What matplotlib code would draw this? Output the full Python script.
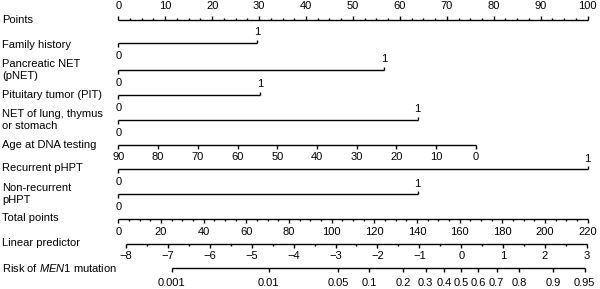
import numpy as np
import matplotlib
matplotlib.use("Agg")
import matplotlib.pyplot as plt

plt.rcParams['font.family'] = ['Liberation Sans', 'DejaVu Sans']
plt.rcParams['mathtext.fontset'] = 'custom'
plt.rcParams['mathtext.rm'] = 'Liberation Sans'
plt.rcParams['mathtext.it'] = 'Liberation Sans:italic'

# ---- data (points contributed) ----
binary_names = ["Family history", "Pancreatic NET\n(pNET)", "Pituitary tumor (PIT)",
                "NET of lung, thymus\nor stomach"]
binary_points = [29.5, 56.7, 30.2, 63.8]
age_ticks = [90, 80, 70, 60, 50, 40, 30, 20, 10, 0]
age_points_at_0 = 76.2   # points when age = 0 (age 90 -> 0 points)
phpt_names = ["Recurrent pHPT", "Non-recurrent\npHPT"]
phpt_points = [100.0, 63.8]
total_max = 220
total_ticks = list(range(0, 221, 20))
lp_ticks = list(range(-8, 4))
lp_at_0pts = -8.184
lp_range = 11.2
risk_ticks = [0.001, 0.01, 0.05, 0.1, 0.2, 0.3, 0.4, 0.5, 0.6, 0.7, 0.8, 0.9, 0.95]
risk_labels = ["0.001", "0.01", "0.05", "0.1", "0.2", "0.3", "0.4", "0.5", "0.6",
               "0.7", "0.8", "0.9", "0.95"]

W, H = 600, 289
fig = plt.figure(figsize=(6, 2.89), dpi=100)
ax = fig.add_axes([0, 0, 1, 1])
x0px, ppx = 118.3, 4.693
ax.set_xlim(-x0px / ppx, (W - x0px) / ppx)
ax.set_ylim(H, 0)
ax.axis('off')

FS = 8
LW = 1.0
LX = -x0px / ppx + 2 / ppx  # left label x

def label(y, s):
    ax.text(LX, y, s, fontsize=FS, va='center', ha='left', linespacing=1.25)

def hline(y, a, b):
    ax.plot([a, b], [y, y], color='black', lw=LW, solid_capstyle='butt')

def ticks(y, xs, length, up):
    d = -length if up else length
    for x in xs:
        ax.plot([x, x], [y, y + d], color='black', lw=LW, solid_capstyle='butt')

# Points axis
yP = 20
label(yP, "Points")
hline(yP, 0, 100)
ticks(yP, np.arange(0, 101, 10), 4, True)
ticks(yP, [v for v in np.arange(0, 100.1, 2.5) if v % 10 != 0], 2, True)
for v in range(0, 101, 10):
    ax.text(v, 6, str(v), fontsize=FS, ha='center', va='center')

# Binary variables
rows = [(43, 45), (70, 70), (95, 95), (120, 120)]
for (yl, ylab), name, pts in zip(rows, binary_names, binary_points):
    label(ylab, name)
    hline(yl, 0, pts)
    ticks(yl, [0], 3.5, False)
    ticks(yl, [pts], 3.5, True)
    ax.text(pts, yl - 11, "1", fontsize=FS, ha='center', va='center')
    ax.text(0, yl + 13, "0", fontsize=FS, ha='center', va='center')

# Age
yA = 145
label(yA, "Age at DNA testing")
hline(yA, 0, age_points_at_0)
age_x = [(90 - a) / 90 * age_points_at_0 for a in age_ticks]
ticks(yA, age_x, 3.5, False)
for a, x in zip(age_ticks, age_x):
    ax.text(x, 157, str(a), fontsize=FS, ha='center', va='center')

# pHPT
rows2 = [(169, 168), (194, 194)]
for (yl, ylab), name, pts in zip(rows2, phpt_names, phpt_points):
    label(ylab, name)
    hline(yl, 0, pts)
    ticks(yl, [0], 3.5, False)
    ticks(yl, [pts], 3.5, True)
    ax.text(pts, yl - 10, "1", fontsize=FS, ha='center', va='center')
    ax.text(0, yl + 13, "0", fontsize=FS, ha='center', va='center')

# Total points
yT = 219
label(yT - 1, "Total points")
tp = lambda t: t * 100 / total_max
hline(yT, 0, 100)
ticks(yT, [tp(t) for t in total_ticks], 4, False)
ticks(yT, [tp(t) for t in range(0, 221, 5) if t % 20 != 0], 2, False)
for t in total_ticks:
    ax.text(tp(t), 232, str(t), fontsize=FS, ha='center', va='center')

# Linear predictor
yL = 244
label(yL - 1, "Linear predictor")
lpx = lambda v: (v - lp_at_0pts) / lp_range * 100
hline(yL, lpx(lp_ticks[0]), lpx(lp_ticks[-1]))
ticks(yL, [lpx(v) for v in lp_ticks], 4, False)
ticks(yL, [lpx(v + 0.5) for v in lp_ticks[:-1]], 2, False)
for v in lp_ticks:
    s = str(v).replace('-', '\u2212')
    ax.text(lpx(v), 256, s, fontsize=FS, ha='center', va='center')

# Risk
yR = 268
label(yR, "Risk of $\\it{MEN1}$ mutation")
rx = [lpx(np.log(p / (1 - p))) for p in risk_ticks]
hline(yR, rx[0], rx[-1])
ticks(yR, rx, 4, False)
for x, s in zip(rx, risk_labels):
    ax.text(x, 283, s, fontsize=FS, ha='center', va='center')

fig.savefig("out.png", dpi=100)
